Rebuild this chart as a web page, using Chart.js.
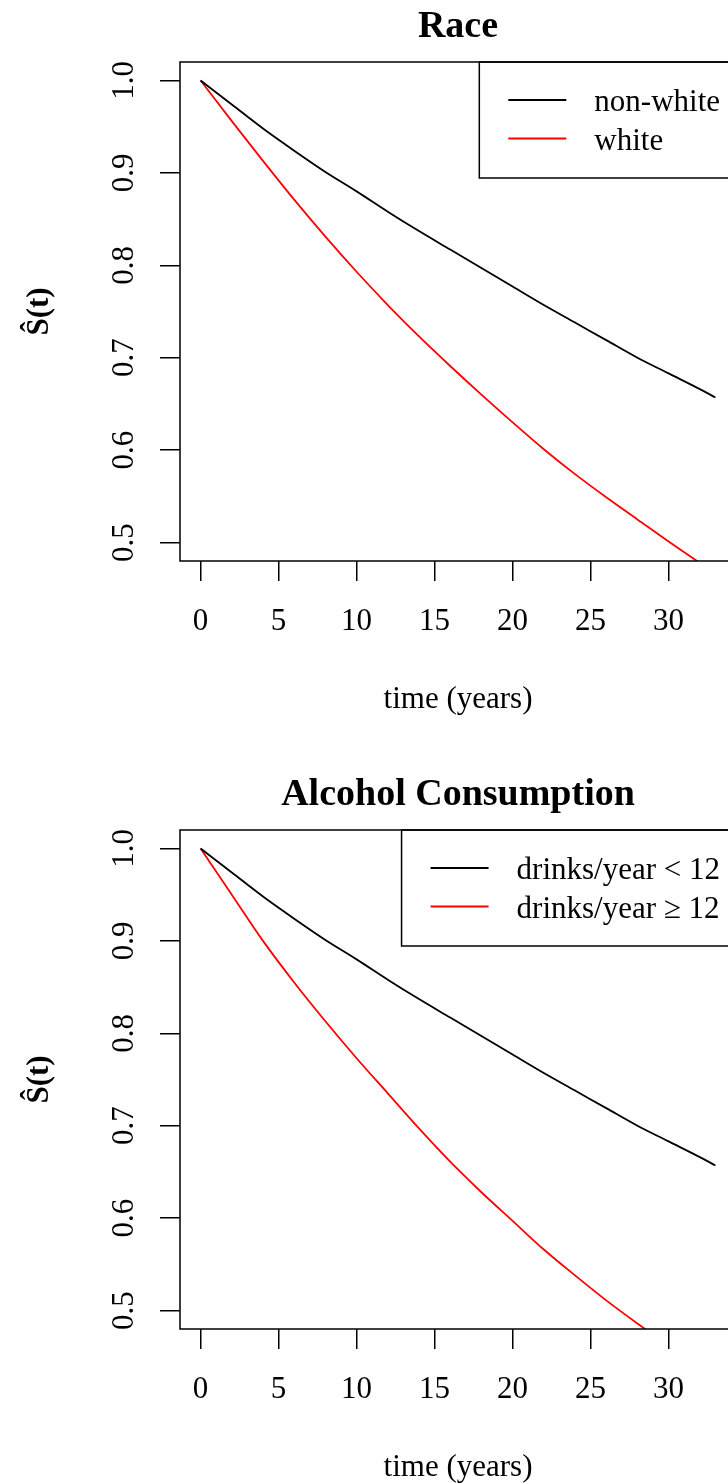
<!DOCTYPE html>
<html>
<head>
<meta charset="utf-8">
<title>Survival curves</title>
<script src="https://cdn.jsdelivr.net/npm/chart.js@4.4.1/dist/chart.umd.min.js"></script>
<style>
  html, body { margin: 0; padding: 0; width: 728px; height: 1483px; overflow: hidden; background: #fff; }
  canvas { position: absolute; left: 0; }
  #race-canvas { top: 0; }
  #alcohol-canvas { top: 768px; }
</style>
</head>
<body>
<canvas id="race-canvas" width="760" height="768"></canvas>
<canvas id="alcohol-canvas" width="760" height="768"></canvas>
<script>
// values
const timeYears = [0, 2, 4, 6, 8, 10, 12, 14, 16, 18, 20, 22, 24, 26, 28, 30, 32, 33];

const raceNonWhite = [1.000, 0.974, 0.948, 0.924, 0.901, 0.880, 0.858, 0.837, 0.817, 0.797, 0.777, 0.757, 0.738, 0.719, 0.700, 0.683, 0.666, 0.657];
const raceWhite    = [1.000, 0.956, 0.913, 0.871, 0.831, 0.793, 0.757, 0.723, 0.691, 0.660, 0.630, 0.601, 0.574, 0.549, 0.525, 0.501, 0.478, 0.467];

const alcoholLow  = [1.000, 0.974, 0.948, 0.924, 0.901, 0.880, 0.858, 0.837, 0.817, 0.797, 0.777, 0.757, 0.738, 0.719, 0.700, 0.683, 0.666, 0.657];
const alcoholHigh = [1.000, 0.950, 0.900, 0.855, 0.813, 0.773, 0.735, 0.697, 0.661, 0.628, 0.597, 0.566, 0.538, 0.511, 0.486, 0.462, 0.440, 0.429];

const xTicks = [0, 5, 10, 15, 20, 25, 30];
const yTicks = [0.5, 0.6, 0.7, 0.8, 0.9, 1.0];

const serif = "'Liberation Serif', 'Times New Roman', serif";
const baseSize = 31;
Chart.defaults.font.family = serif;
Chart.defaults.color = "#000";

function toPoints(values) {
  return values.map((v, i) => ({ x: timeYears[i], y: v }));
}

// R-style box around the plot region
const plotFrame = {
  id: "plotFrame",
  afterDraw(chart) {
    const { ctx, chartArea: a } = chart;
    ctx.save();
    ctx.strokeStyle = "#000";
    ctx.lineWidth = 1.5;
    ctx.strokeRect(a.left, a.top, a.right - a.left, a.bottom - a.top);
    ctx.restore();
  }
};

// legend in the top right corner, with a border
const boxLegend = {
  id: "boxLegend",
  afterDatasetsDraw(chart) {
    const { ctx, chartArea } = chart;
    const sets = chart.data.datasets;
    ctx.save();
    ctx.font = baseSize + "px " + serif;
    const textW = Math.max(...sets.map(d => ctx.measureText(d.label).width));
    const right = chartArea.right;
    const left = right - (115 + textW + 16);
    const top = chartArea.top;
    ctx.fillStyle = "#fff";
    ctx.fillRect(left, top, right - left, 116);
    ctx.strokeStyle = "#000";
    ctx.lineWidth = 1.5;
    ctx.strokeRect(left, top, right - left, 116);
    sets.forEach((d, i) => {
      const y = top + 38 + i * 38.5;
      ctx.strokeStyle = d.borderColor;
      ctx.lineWidth = 1.8;
      ctx.beginPath();
      ctx.moveTo(left + 29, y);
      ctx.lineTo(left + 87, y);
      ctx.stroke();
      ctx.fillStyle = "#000";
      ctx.textAlign = "left";
      ctx.textBaseline = "middle";
      ctx.fillText(d.label, left + 115, y + 3);
    });
    ctx.restore();
  }
};

function survivalChart(canvasId, title, labels, series) {
  return new Chart(document.getElementById(canvasId), {
    type: "line",
    data: {
      datasets: [
        { label: labels[0], data: toPoints(series[0]), borderColor: "#000000" },
        { label: labels[1], data: toPoints(series[1]), borderColor: "#ff0000" },
      ],
    },
    options: {
      responsive: false,
      animation: false,
      layout: { padding: { left: 0, right: 24, top: 0, bottom: 0 } },
      elements: {
        point: { radius: 0 },
        line: { borderWidth: 1.8, cubicInterpolationMode: "monotone", fill: false },
      },
      plugins: {
        legend: { display: false },
        tooltip: { enabled: false },
        title: {
          display: true,
          text: title,
          fullSize: false,
          font: { size: 38, weight: "bold", lineHeight: 1.2 },
          padding: { top: 4, bottom: 12.4 },
        },
      },
      scales: {
        x: {
          type: "linear",
          min: -1.32,
          max: 34.32,
          afterBuildTicks: s => { s.ticks = xTicks.map(v => ({ value: v })); },
          afterFit: s => { s.height = 207; },
          ticks: { font: { size: baseSize }, padding: 22, callback: v => String(v) },
          grid: { drawOnChartArea: false, tickLength: 20, tickColor: "#000", lineWidth: 1.5 },
          border: { display: false },
          title: { display: true, text: "time (years)", font: { size: baseSize }, padding: { top: 0, bottom: 50 } },
        },
        y: {
          type: "linear",
          min: 0.48,
          max: 1.02,
          afterBuildTicks: s => { s.ticks = yTicks.map(v => ({ value: v })); },
          afterFit: s => { s.width = 180; },
          ticks: { font: { size: baseSize }, padding: 16, minRotation: 90, maxRotation: 90, crossAlign: "center", callback: v => v.toFixed(1) },
          grid: { drawOnChartArea: false, tickLength: 20, tickColor: "#000", lineWidth: 1.5 },
          border: { display: false },
          title: { display: true, text: "Ŝ(t)", font: { size: baseSize, weight: "bold" }, padding: { top: 21, bottom: 0 } },
        },
      },
    },
    plugins: [boxLegend, plotFrame],
  });
}

survivalChart("race-canvas", "Race", ["non-white", "white"], [raceNonWhite, raceWhite]);
survivalChart("alcohol-canvas", "Alcohol Consumption", ["drinks/year < 12", "drinks/year ≥ 12"], [alcoholLow, alcoholHigh]);
</script>
</body>
</html>
